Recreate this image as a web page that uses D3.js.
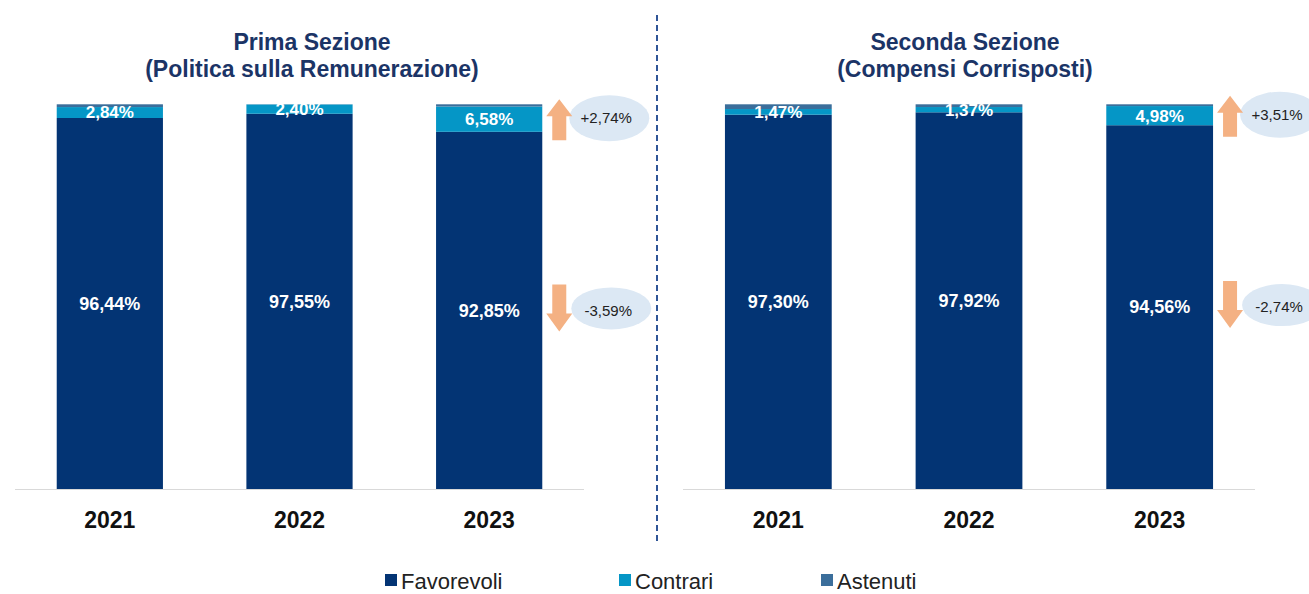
<!DOCTYPE html>
<html>
<head>
<meta charset="utf-8">
<script src="https://cdn.jsdelivr.net/npm/d3@7"></script>
<style>
  body { margin: 0; background: #fff; }
  svg { display: block; font-family: "Liberation Sans", Arial, sans-serif; }
</style>
</head>
<body>
<div id="chart"></div>
<script>
var years = ["2021", "2022", "2023"];
var series = ["Favorevoli", "Contrari", "Astenuti"];
var primaFav = [96.44, 97.55, 92.85];
var primaContr = [2.84, 2.40, 6.58];
var primaAst = [0.72, 0.05, 0.57];
var secondaFav = [97.30, 97.92, 94.56];
var secondaContr = [1.47, 1.37, 4.98];
var secondaAst = [1.23, 0.71, 0.46];
var deltaUp = ["+2,74%", "+3,51%"];
var deltaDown = ["-3,59%", "-2,74%"];

var width = 1309, height = 594;
var colors = { Favorevoli: "#033474", Contrari: "#0596c6", Astenuti: "#3b6e9b" };
var titleColor = "#1b3466";

var svg = d3.select("#chart").append("svg")
    .attr("width", width)
    .attr("height", height);

var y = d3.scaleLinear().domain([0, 100]).range([489, 104.3]);

function fmt(v) { return v.toFixed(2).replace(".", ",") + "%"; }

var panels = [
    { title: ["Prima Sezione", "(Politica sulla Remunerazione)"], x0: 15, x1: 584, tx: 312,
      fav: primaFav, contr: primaContr, ast: primaAst, up: deltaUp[0], down: deltaDown[0] },
    { title: ["Seconda Sezione", "(Compensi Corrisposti)"], x0: 683, x1: 1255, tx: 965,
      fav: secondaFav, contr: secondaContr, ast: secondaAst, up: deltaUp[1], down: deltaDown[1] }
];

panels.forEach(function (p) {
    var x = d3.scaleBand().domain(years).range([p.x0, p.x1])
        .paddingInner(0.44).paddingOuter(0.22);
    var g = svg.append("g");

    g.selectAll(".title")
        .data(p.title)
        .enter()
        .append("text")
        .attr("x", p.tx)
        .attr("y", function (d, i) { return 50 + i * 27; })
        .attr("text-anchor", "middle")
        .attr("font-size", "23px")
        .attr("font-weight", "bold")
        .attr("fill", titleColor)
        .text(function (d) { return d; });

    // baseline
    g.append("line")
        .attr("x1", p.x0).attr("x2", p.x1)
        .attr("y1", y(0) + 0.5).attr("y2", y(0) + 0.5)
        .attr("stroke", "#d9d9d9")
        .attr("stroke-width", 1);

    var rows = years.map(function (yr, i) {
        return { year: yr, fav: p.fav[i], contr: p.contr[i], ast: p.ast[i] };
    });

    var stack = d3.stack().keys(["fav", "contr", "ast"])(rows);
    var keyName = { fav: "Favorevoli", contr: "Contrari", ast: "Astenuti" };

    g.selectAll(".layer")
        .data(stack)
        .enter()
        .append("g")
        .attr("fill", function (d) { return colors[keyName[d.key]]; })
        .selectAll("rect")
        .data(function (d) { return d; })
        .enter()
        .append("rect")
        .attr("x", function (d) { return x(d.data.year); })
        .attr("width", x.bandwidth())
        .attr("y", function (d) { return y(d[1]); })
        .attr("height", function (d) { return y(d[0]) - y(d[1]); });

    // favorevoli labels
    g.selectAll(".favLabel")
        .data(rows)
        .enter()
        .append("text")
        .attr("x", function (d) { return x(d.year) + x.bandwidth() / 2; })
        .attr("y", function (d) { return y(d.fav / 2); })
        .attr("dy", "0.35em")
        .attr("text-anchor", "middle")
        .attr("font-size", "18px")
        .attr("font-weight", "bold")
        .attr("fill", "#fff")
        .text(function (d) { return fmt(d.fav); });

    // contrari labels
    g.selectAll(".contrLabel")
        .data(rows)
        .enter()
        .append("text")
        .attr("x", function (d) { return x(d.year) + x.bandwidth() / 2; })
        .attr("y", function (d) { return y(d.fav + d.contr / 2); })
        .attr("dy", "0.35em")
        .attr("text-anchor", "middle")
        .attr("font-size", "17px")
        .attr("font-weight", "bold")
        .attr("fill", "#fff")
        .text(function (d) { return fmt(d.contr); });

    // year labels
    g.selectAll(".yearLabel")
        .data(years)
        .enter()
        .append("text")
        .attr("x", function (d) { return x(d) + x.bandwidth() / 2; })
        .attr("y", 528)
        .attr("text-anchor", "middle")
        .attr("font-size", "23px")
        .attr("font-weight", "bold")
        .attr("fill", "#111")
        .text(function (d) { return d; });

    // change arrows for last year
    var last = rows[rows.length - 1];
    var ax = x(last.year) + x.bandwidth() + 17;
    var upY = y(last.fav + last.contr / 2);
    var downY = y(last.fav / 2);
    var arrowColor = "#f4b183";
    var ellColor = "#dce8f4";

    g.append("ellipse")
        .attr("cx", ax + 50).attr("cy", upY - 1)
        .attr("rx", 40).attr("ry", 23)
        .attr("fill", ellColor);
    g.append("text")
        .attr("x", ax + 47).attr("y", upY - 1)
        .attr("dy", "0.35em")
        .attr("text-anchor", "middle")
        .attr("font-size", "15px")
        .attr("fill", "#222")
        .text(p.up);

    g.append("ellipse")
        .attr("cx", ax + 52).attr("cy", downY - 2)
        .attr("rx", 40).attr("ry", 21)
        .attr("fill", ellColor);
    g.append("text")
        .attr("x", ax + 49).attr("y", downY)
        .attr("dy", "0.35em")
        .attr("text-anchor", "middle")
        .attr("font-size", "15px")
        .attr("fill", "#222")
        .text(p.down);

    // up arrow
    g.append("path")
        .attr("d", "M" + ax + "," + (upY - 20) +
            " L" + (ax + 13) + "," + (upY - 3) +
            " L" + (ax + 7) + "," + (upY - 3) +
            " L" + (ax + 7) + "," + (upY + 21) +
            " L" + (ax - 7) + "," + (upY + 21) +
            " L" + (ax - 7) + "," + (upY - 3) +
            " L" + (ax - 13) + "," + (upY - 3) + " Z")
        .attr("fill", arrowColor);

    // down arrow
    g.append("path")
        .attr("d", "M" + (ax - 7) + "," + (downY - 26) +
            " L" + (ax + 7) + "," + (downY - 26) +
            " L" + (ax + 7) + "," + (downY + 3) +
            " L" + (ax + 13) + "," + (downY + 3) +
            " L" + ax + "," + (downY + 21) +
            " L" + (ax - 13) + "," + (downY + 3) +
            " L" + (ax - 7) + "," + (downY + 3) + " Z")
        .attr("fill", arrowColor);
});

// dashed divider
svg.append("line")
    .attr("x1", 657).attr("x2", 657)
    .attr("y1", 15).attr("y2", 545)
    .attr("stroke", "#2f5597")
    .attr("stroke-width", 2)
    .attr("stroke-dasharray", "6,4");

// legend
var legendX = [385, 619, 821];
var legend = svg.selectAll(".legend")
    .data(series)
    .enter()
    .append("g")
    .attr("transform", function (d, i) { return "translate(" + legendX[i] + ",580)"; });

legend.append("rect")
    .attr("x", 0).attr("y", -6)
    .attr("width", 12).attr("height", 12)
    .attr("fill", function (d) { return colors[d]; });

legend.append("text")
    .attr("x", 16)
    .attr("y", 1)
    .attr("dy", "0.35em")
    .attr("font-size", "22px")
    .attr("fill", "#222")
    .text(function (d) { return d; });
</script>
</body>
</html>
